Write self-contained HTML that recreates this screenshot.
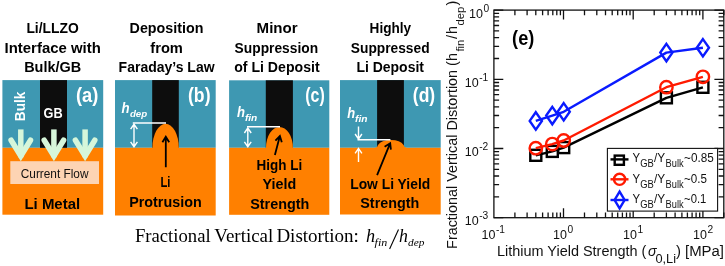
<!DOCTYPE html>
<html><head><meta charset="utf-8"><title>Fractional Vertical Distortion</title>
<style>html,body{margin:0;padding:0;background:#fff}svg{display:block;filter:blur(0.45px)}text{white-space:pre}</style></head>
<body>
<svg width="725" height="266" viewBox="0 0 725 266">
<rect width="725" height="266" fill="#fff"/>
<rect x="2.4" y="80.1" width="100.8" height="67.7" fill="#3e98b2"/>
<rect x="2.4" y="147.8" width="100.8" height="66.9" fill="#ff8000"/>
<rect x="40" y="80.1" width="27.0" height="67.7" fill="#0d0d0d"/>
<rect x="115" y="80.1" width="100.7" height="67.7" fill="#3e98b2"/>
<rect x="115" y="147.8" width="100.7" height="67.7" fill="#ff8000"/>
<rect x="152.2" y="80.1" width="26.6" height="67.7" fill="#0d0d0d"/>
<rect x="229.1" y="80.3" width="100.2" height="67.5" fill="#3e98b2"/>
<rect x="229.1" y="147.8" width="100.2" height="67.0" fill="#ff8000"/>
<rect x="265.8" y="80.3" width="27.1" height="67.5" fill="#0d0d0d"/>
<rect x="340" y="80.1" width="100.7" height="67.7" fill="#3e98b2"/>
<rect x="340" y="147.8" width="100.7" height="66.7" fill="#ff8000"/>
<rect x="377.1" y="80.1" width="26.8" height="67.7" fill="#0d0d0d"/>
<text x="26.4" y="32.9" font-family='"Liberation Sans", sans-serif' font-size="14.7" font-weight="bold" fill="#000" textLength="52.3" lengthAdjust="spacingAndGlyphs">Li/LLZO</text>
<text x="4.6" y="52.5" font-family='"Liberation Sans", sans-serif' font-size="14.7" font-weight="bold" fill="#000" textLength="96.2" lengthAdjust="spacingAndGlyphs">Interface with</text>
<text x="24.2" y="72.1" font-family='"Liberation Sans", sans-serif' font-size="14.7" font-weight="bold" fill="#000" textLength="57.0" lengthAdjust="spacingAndGlyphs">Bulk/GB</text>
<text x="129.6" y="32.9" font-family='"Liberation Sans", sans-serif' font-size="14.7" font-weight="bold" fill="#000" textLength="73.8" lengthAdjust="spacingAndGlyphs">Deposition</text>
<text x="150.3" y="52.5" font-family='"Liberation Sans", sans-serif' font-size="14.7" font-weight="bold" fill="#000" textLength="32.6" lengthAdjust="spacingAndGlyphs">from</text>
<text x="118.6" y="72.1" font-family='"Liberation Sans", sans-serif' font-size="14.7" font-weight="bold" fill="#000" textLength="96.0" lengthAdjust="spacingAndGlyphs">Faraday’s Law</text>
<text x="256.6" y="32.9" font-family='"Liberation Sans", sans-serif' font-size="14.7" font-weight="bold" fill="#000" textLength="41.0" lengthAdjust="spacingAndGlyphs">Minor</text>
<text x="234.6" y="52.5" font-family='"Liberation Sans", sans-serif' font-size="14.7" font-weight="bold" fill="#000" textLength="83.5" lengthAdjust="spacingAndGlyphs">Suppression</text>
<text x="234.2" y="72.1" font-family='"Liberation Sans", sans-serif' font-size="14.7" font-weight="bold" fill="#000" textLength="85.4" lengthAdjust="spacingAndGlyphs">of Li Deposit</text>
<text x="369.6" y="32.9" font-family='"Liberation Sans", sans-serif' font-size="14.7" font-weight="bold" fill="#000" textLength="41.5" lengthAdjust="spacingAndGlyphs">Highly</text>
<text x="350.8" y="52.5" font-family='"Liberation Sans", sans-serif' font-size="14.7" font-weight="bold" fill="#000" textLength="78.8" lengthAdjust="spacingAndGlyphs">Suppressed</text>
<text x="356.4" y="72.1" font-family='"Liberation Sans", sans-serif' font-size="14.7" font-weight="bold" fill="#000" textLength="67.6" lengthAdjust="spacingAndGlyphs">Li Deposit</text>
<rect x="10.3" y="161.2" width="88.7" height="22.8" fill="#fdd4b3"/>
<g stroke="#d6f6da" fill="none" stroke-width="5.5"><path d="M20.8 129.4V157.3"/><path stroke-linecap="round" stroke-linejoin="miter" stroke-miterlimit="10" d="M11.1 140.2L20.8 156L30.5 140.2"/></g>
<g stroke="#d6f6da" fill="none" stroke-width="5.5"><path d="M53.9 129.4V157.3"/><path stroke-linecap="round" stroke-linejoin="miter" stroke-miterlimit="10" d="M44.2 140.2L53.9 156L63.6 140.2"/></g>
<g stroke="#d6f6da" fill="none" stroke-width="5.5"><path d="M85.1 129.4V157.3"/><path stroke-linecap="round" stroke-linejoin="miter" stroke-miterlimit="10" d="M75.4 140.2L85.1 156L94.8 140.2"/></g>
<text x="20.8" y="178.2" font-family='"Liberation Sans", sans-serif' font-size="13" font-weight="normal" fill="#111" textLength="67.7" lengthAdjust="spacingAndGlyphs">Current Flow</text>
<text x="24.4" y="209.3" font-family='"Liberation Sans", sans-serif' font-size="14.6" font-weight="bold" fill="#000" textLength="55.8" lengthAdjust="spacingAndGlyphs">Li Metal</text>
<text x="43.6" y="117.5" font-family='"Liberation Sans", sans-serif' font-size="13.8" font-weight="bold" fill="#fff" textLength="19.1" lengthAdjust="spacingAndGlyphs">GB</text>
<text x="76.0" y="102.0" font-family='"Liberation Sans", sans-serif' font-size="19.5" font-weight="bold" fill="#fff" textLength="22.4" lengthAdjust="spacingAndGlyphs">(a)</text>
<g transform="translate(25.4,121.2) rotate(-90)">
<text x="0.0" y="0.0" font-family='"Liberation Sans", sans-serif' font-size="14.5" font-weight="bold" fill="#fff" textLength="29.5" lengthAdjust="spacingAndGlyphs">Bulk</text>
</g>
<path d="M152.4 148.3 L152.4 147.8 A13.2 24 0 0 1 178.8 147.8 L178.8 148.3Z" fill="#ff8000"/>
<g stroke="#fff" stroke-width="1.4" fill="none"><path d="M132.8 123H166"/><path d="M134 124.5V146.5M130.6 129.2L134 124.3L137.4 129.2M130.6 141.8L134 146.7L137.4 141.8"/></g>
<g stroke="#000" stroke-width="1.8" fill="none"><path d="M165.8 167.2V137M162.4 142.2L165.8 136.7L169.2 142.2"/></g>
<text x="121.6" y="113.4" font-family='"Liberation Sans", sans-serif' font-size="15" font-weight="bold" fill="#fff" font-style="italic" textLength="8.1" lengthAdjust="spacingAndGlyphs">h</text>
<text x="129.9" y="116.9" font-family='"Liberation Sans", sans-serif' font-size="9.8" font-weight="bold" fill="#fff" font-style="italic" textLength="17.3" lengthAdjust="spacingAndGlyphs">dep</text>
<text x="188.0" y="102.0" font-family='"Liberation Sans", sans-serif' font-size="19.5" font-weight="bold" fill="#fff" textLength="22.5" lengthAdjust="spacingAndGlyphs">(b)</text>
<text x="160.5" y="187.3" font-family='"Liberation Sans", sans-serif' font-size="14.6" font-weight="bold" fill="#000" textLength="10.0" lengthAdjust="spacingAndGlyphs">Li</text>
<text x="129.2" y="207.0" font-family='"Liberation Sans", sans-serif' font-size="14.6" font-weight="bold" fill="#000" textLength="72.5" lengthAdjust="spacingAndGlyphs">Protrusion</text>
<path d="M266 148.3 L266 147.8 A13.4 20.7 0 0 1 292.9 147.8 L292.9 148.3Z" fill="#ff8000"/>
<g stroke="#fff" stroke-width="1.4" fill="none"><path d="M247 126.8H280"/><path d="M247.8 128.3V146.5M244.4 133L247.8 128.1L251.2 133M244.4 141.8L247.8 146.7L251.2 141.8"/></g>
<g stroke="#000" stroke-width="1.8" fill="none"><path d="M274.9 154.9L279.8 136.3M275.4 140.6L279.9 136L281.8 142.3"/></g>
<text x="237.0" y="116.8" font-family='"Liberation Sans", sans-serif' font-size="15" font-weight="bold" fill="#fff" font-style="italic" textLength="8.0" lengthAdjust="spacingAndGlyphs">h</text>
<text x="244.9" y="121.1" font-family='"Liberation Sans", sans-serif' font-size="9.8" font-weight="bold" fill="#fff" font-style="italic" textLength="12.4" lengthAdjust="spacingAndGlyphs">fin</text>
<text x="305.3" y="102.0" font-family='"Liberation Sans", sans-serif' font-size="19.5" font-weight="bold" fill="#fff" textLength="19.5" lengthAdjust="spacingAndGlyphs">(c)</text>
<text x="256.6" y="169.5" font-family='"Liberation Sans", sans-serif' font-size="14.6" font-weight="bold" fill="#000" textLength="45.6" lengthAdjust="spacingAndGlyphs">High Li</text>
<text x="262.6" y="189.0" font-family='"Liberation Sans", sans-serif' font-size="14.6" font-weight="bold" fill="#000" textLength="33.7" lengthAdjust="spacingAndGlyphs">Yield</text>
<text x="250.2" y="209.2" font-family='"Liberation Sans", sans-serif' font-size="14.6" font-weight="bold" fill="#000" textLength="59.2" lengthAdjust="spacingAndGlyphs">Strength</text>
<path d="M375.2 148.3V147.8Q377.4 147.8 378 144.9A13.7 7.5 0 0 1 403.6 144.9Q404.2 147.8 406.4 147.8V148.3Z" fill="#ff8000"/>
<g stroke="#fff" stroke-width="1.4" fill="none"><path d="M357.5 139.7H390.4"/><path d="M358.5 126.5V138.8M355.1 134L358.5 139L361.9 134"/><path d="M358.5 162V148.6M355.1 153.4L358.5 148.4L361.9 153.4"/></g>
<g stroke="#000" stroke-width="1.8" fill="none"><path d="M377.1 175.2L390 143.6M384.6 146.8L390.2 143.2L390.9 149.6"/></g>
<text x="347.3" y="118.1" font-family='"Liberation Sans", sans-serif' font-size="15" font-weight="bold" fill="#fff" font-style="italic" textLength="7.9" lengthAdjust="spacingAndGlyphs">h</text>
<text x="355.1" y="122.4" font-family='"Liberation Sans", sans-serif' font-size="9.8" font-weight="bold" fill="#fff" font-style="italic" textLength="12.5" lengthAdjust="spacingAndGlyphs">fin</text>
<text x="412.8" y="102.0" font-family='"Liberation Sans", sans-serif' font-size="19.5" font-weight="bold" fill="#fff" textLength="22.4" lengthAdjust="spacingAndGlyphs">(d)</text>
<text x="350.2" y="189.0" font-family='"Liberation Sans", sans-serif' font-size="14.2" font-weight="bold" fill="#000" textLength="80.0" lengthAdjust="spacingAndGlyphs">Low Li Yield</text>
<text x="360.3" y="207.7" font-family='"Liberation Sans", sans-serif' font-size="14.2" font-weight="bold" fill="#000" textLength="59.0" lengthAdjust="spacingAndGlyphs">Strength</text>
<text x="134.9" y="242.0" font-family='"Liberation Serif", serif' font-size="18.8" font-weight="normal" fill="#000" textLength="75.8" lengthAdjust="spacingAndGlyphs">Fractional</text>
<text x="214.3" y="242.0" font-family='"Liberation Serif", serif' font-size="18.8" font-weight="normal" fill="#000" textLength="59.0" lengthAdjust="spacingAndGlyphs">Vertical</text>
<text x="276.4" y="242.0" font-family='"Liberation Serif", serif' font-size="18.8" font-weight="normal" fill="#000" textLength="82.4" lengthAdjust="spacingAndGlyphs">Distortion:</text>
<text x="365.9" y="242.0" font-family='"Liberation Serif", serif' font-size="18.8" font-weight="normal" fill="#000" font-style="italic" textLength="9.1" lengthAdjust="spacingAndGlyphs">h</text>
<text x="374.6" y="246.4" font-family='"Liberation Serif", serif' font-size="11" font-weight="normal" fill="#000" font-style="italic" textLength="12.7" lengthAdjust="spacingAndGlyphs">fin</text>
<path d="M389.6 248.9L398.5 229.6" stroke="#000" stroke-width="1.1"/>
<text x="398.9" y="242.0" font-family='"Liberation Serif", serif' font-size="18.8" font-weight="normal" fill="#000" font-style="italic" textLength="8.9" lengthAdjust="spacingAndGlyphs">h</text>
<text x="408.0" y="246.4" font-family='"Liberation Serif", serif' font-size="11" font-weight="normal" fill="#000" font-style="italic" textLength="16.4" lengthAdjust="spacingAndGlyphs">dep</text>
<g stroke="#111" stroke-width="1.3" fill="none">
<rect x="493.9" y="10.1" width="229.9" height="207.6"/>
<path d="M514.9 217.7v-5.2M514.9 10.1v5.2M527.1 217.7v-5.2M527.1 10.1v5.2M535.8 217.7v-5.2M535.8 10.1v5.2M542.6 217.7v-5.2M542.6 10.1v5.2M548.1 217.7v-5.2M548.1 10.1v5.2M552.8 217.7v-5.2M552.8 10.1v5.2M556.8 217.7v-5.2M556.8 10.1v5.2M560.4 217.7v-5.2M560.4 10.1v5.2M563.5 217.7v-9.4M563.5 10.1v9.4M584.5 217.7v-5.2M584.5 10.1v5.2M596.8 217.7v-5.2M596.8 10.1v5.2M605.5 217.7v-5.2M605.5 10.1v5.2M612.2 217.7v-5.2M612.2 10.1v5.2M617.7 217.7v-5.2M617.7 10.1v5.2M622.4 217.7v-5.2M622.4 10.1v5.2M626.5 217.7v-5.2M626.5 10.1v5.2M630.0 217.7v-5.2M630.0 10.1v5.2M633.2 217.7v-9.4M633.2 10.1v9.4M654.2 217.7v-5.2M654.2 10.1v5.2M666.4 217.7v-5.2M666.4 10.1v5.2M675.1 217.7v-5.2M675.1 10.1v5.2M681.9 217.7v-5.2M681.9 10.1v5.2M687.4 217.7v-5.2M687.4 10.1v5.2M692.1 217.7v-5.2M692.1 10.1v5.2M696.1 217.7v-5.2M696.1 10.1v5.2M699.7 217.7v-5.2M699.7 10.1v5.2M702.9 217.7v-9.4M702.9 10.1v9.4M723.8 217.7v-5.2M723.8 10.1v5.2M493.9 217.7h9.4M723.8 217.7h-9.4M493.9 196.9h5.2M723.8 196.9h-5.2M493.9 184.7h5.2M723.8 184.7h-5.2M493.9 176.0h5.2M723.8 176.0h-5.2M493.9 169.3h5.2M723.8 169.3h-5.2M493.9 163.9h5.2M723.8 163.9h-5.2M493.9 159.2h5.2M723.8 159.2h-5.2M493.9 155.2h5.2M723.8 155.2h-5.2M493.9 151.7h5.2M723.8 151.7h-5.2M493.9 148.5h9.4M723.8 148.5h-9.4M493.9 127.7h5.2M723.8 127.7h-5.2M493.9 115.5h5.2M723.8 115.5h-5.2M493.9 106.8h5.2M723.8 106.8h-5.2M493.9 100.1h5.2M723.8 100.1h-5.2M493.9 94.7h5.2M723.8 94.7h-5.2M493.9 90.0h5.2M723.8 90.0h-5.2M493.9 86.0h5.2M723.8 86.0h-5.2M493.9 82.5h5.2M723.8 82.5h-5.2M493.9 79.3h9.4M723.8 79.3h-9.4M493.9 58.5h5.2M723.8 58.5h-5.2M493.9 46.3h5.2M723.8 46.3h-5.2M493.9 37.6h5.2M723.8 37.6h-5.2M493.9 30.9h5.2M723.8 30.9h-5.2M493.9 25.5h5.2M723.8 25.5h-5.2M493.9 20.8h5.2M723.8 20.8h-5.2M493.9 16.8h5.2M723.8 16.8h-5.2M493.9 13.3h5.2M723.8 13.3h-5.2M493.9 10.1h9.4M723.8 10.1h-9.4"/>
</g>
<polyline fill="none" stroke="#000" stroke-width="2.4" stroke-linejoin="round" points="535.8,155.3 552.3,151.4 563.7,147.6 666.4,97.8 702.9,87.3"/>
<rect x="530.3" y="149.8" width="11.0" height="11.0" fill="none" stroke="#000" stroke-width="2.4"/>
<rect x="546.8" y="145.9" width="11.0" height="11.0" fill="none" stroke="#000" stroke-width="2.4"/>
<rect x="558.2" y="142.1" width="11.0" height="11.0" fill="none" stroke="#000" stroke-width="2.4"/>
<rect x="660.9" y="92.3" width="11.0" height="11.0" fill="none" stroke="#000" stroke-width="2.4"/>
<rect x="697.4" y="81.8" width="11.0" height="11.0" fill="none" stroke="#000" stroke-width="2.4"/>
<polyline fill="none" stroke="#ff1a00" stroke-width="2.4" stroke-linejoin="round" points="535.8,148.2 552.3,144.1 563.7,140.5 666.4,87.2 702.9,76.8"/>
<circle cx="535.8" cy="148.2" r="6.2" fill="none" stroke="#ff1a00" stroke-width="2.4"/>
<circle cx="552.3" cy="144.1" r="6.2" fill="none" stroke="#ff1a00" stroke-width="2.4"/>
<circle cx="563.7" cy="140.5" r="6.2" fill="none" stroke="#ff1a00" stroke-width="2.4"/>
<circle cx="666.4" cy="87.2" r="6.2" fill="none" stroke="#ff1a00" stroke-width="2.4"/>
<circle cx="702.9" cy="76.8" r="6.2" fill="none" stroke="#ff1a00" stroke-width="2.4"/>
<polyline fill="none" stroke="#0a1bff" stroke-width="2.4" stroke-linejoin="round" points="535.8,120.9 552.3,115.6 563.7,111.8 666.4,52.6 702.9,47.8"/>
<path d="M535.8 112.2L541.9 120.9L535.8 129.6L529.7 120.9Z" fill="none" stroke="#0a1bff" stroke-width="2.4" stroke-linejoin="miter"/>
<path d="M552.3 106.9L558.4 115.6L552.3 124.3L546.2 115.6Z" fill="none" stroke="#0a1bff" stroke-width="2.4" stroke-linejoin="miter"/>
<path d="M563.7 103.1L569.8 111.8L563.7 120.5L557.6 111.8Z" fill="none" stroke="#0a1bff" stroke-width="2.4" stroke-linejoin="miter"/>
<path d="M666.4 43.9L672.5 52.6L666.4 61.3L660.3 52.6Z" fill="none" stroke="#0a1bff" stroke-width="2.4" stroke-linejoin="miter"/>
<path d="M702.9 39.1L709.0 47.8L702.9 56.5L696.8 47.8Z" fill="none" stroke="#0a1bff" stroke-width="2.4" stroke-linejoin="miter"/>
<rect x="607.4" y="148.4" width="110.2" height="62.7" fill="#fff" stroke="#111" stroke-width="1.1"/>
<path d="M610.5 159.4H628.5" stroke="#000" stroke-width="2.4"/>
<rect x="614.7" y="155.6" width="9.2" height="9.2" fill="none" stroke="#000" stroke-width="2.4"/>
<text x="632.4" y="162.4" font-family='"Liberation Sans", sans-serif' font-size="12.5" font-weight="normal" fill="#111" textLength="7.6" lengthAdjust="spacingAndGlyphs">Y</text>
<text x="640.2" y="167.4" font-family='"Liberation Sans", sans-serif' font-size="10" font-weight="normal" fill="#111" textLength="13.6" lengthAdjust="spacingAndGlyphs">GB</text>
<text x="654.0" y="162.4" font-family='"Liberation Sans", sans-serif' font-size="12.5" font-weight="normal" fill="#111" textLength="11.2" lengthAdjust="spacingAndGlyphs">/Y</text>
<text x="665.6" y="167.4" font-family='"Liberation Sans", sans-serif' font-size="10" font-weight="normal" fill="#111" textLength="18.0" lengthAdjust="spacingAndGlyphs">Bulk</text>
<text x="684.1" y="162.4" font-family='"Liberation Sans", sans-serif' font-size="12.5" font-weight="normal" fill="#111" textLength="29.7" lengthAdjust="spacingAndGlyphs">~0.85</text>
<path d="M610.5 179.3H628.5" stroke="#ff1a00" stroke-width="2.4"/>
<circle cx="619.6" cy="179.3" r="5.6" fill="none" stroke="#ff1a00" stroke-width="2.4"/>
<text x="632.4" y="182.8" font-family='"Liberation Sans", sans-serif' font-size="12.5" font-weight="normal" fill="#111" textLength="7.6" lengthAdjust="spacingAndGlyphs">Y</text>
<text x="640.2" y="187.8" font-family='"Liberation Sans", sans-serif' font-size="10" font-weight="normal" fill="#111" textLength="13.6" lengthAdjust="spacingAndGlyphs">GB</text>
<text x="654.0" y="182.8" font-family='"Liberation Sans", sans-serif' font-size="12.5" font-weight="normal" fill="#111" textLength="11.2" lengthAdjust="spacingAndGlyphs">/Y</text>
<text x="665.6" y="187.8" font-family='"Liberation Sans", sans-serif' font-size="10" font-weight="normal" fill="#111" textLength="18.0" lengthAdjust="spacingAndGlyphs">Bulk</text>
<text x="684.1" y="182.8" font-family='"Liberation Sans", sans-serif' font-size="12.5" font-weight="normal" fill="#111" textLength="22.9" lengthAdjust="spacingAndGlyphs">~0.5</text>
<path d="M610.5 200H628.5" stroke="#0a1bff" stroke-width="2.4"/>
<path d="M619.6 191.7L624.6 200.0L619.6 208.3L614.6 200.0Z" fill="none" stroke="#0a1bff" stroke-width="2.4" stroke-linejoin="miter"/>
<text x="632.4" y="202.6" font-family='"Liberation Sans", sans-serif' font-size="12.5" font-weight="normal" fill="#111" textLength="7.6" lengthAdjust="spacingAndGlyphs">Y</text>
<text x="640.2" y="207.6" font-family='"Liberation Sans", sans-serif' font-size="10" font-weight="normal" fill="#111" textLength="13.6" lengthAdjust="spacingAndGlyphs">GB</text>
<text x="654.0" y="202.6" font-family='"Liberation Sans", sans-serif' font-size="12.5" font-weight="normal" fill="#111" textLength="11.2" lengthAdjust="spacingAndGlyphs">/Y</text>
<text x="665.6" y="207.6" font-family='"Liberation Sans", sans-serif' font-size="10" font-weight="normal" fill="#111" textLength="18.0" lengthAdjust="spacingAndGlyphs">Bulk</text>
<text x="684.1" y="202.6" font-family='"Liberation Sans", sans-serif' font-size="12.5" font-weight="normal" fill="#111" textLength="22.3" lengthAdjust="spacingAndGlyphs">~0.1</text>
<text x="469.1" y="17.7" font-family='"Liberation Sans", sans-serif' font-size="12.5" font-weight="normal" fill="#111">10</text>
<text x="483.5" y="11.5" font-family='"Liberation Sans", sans-serif' font-size="10.2" font-weight="normal" fill="#111">0</text>
<text x="464.8" y="86.9" font-family='"Liberation Sans", sans-serif' font-size="12.5" font-weight="normal" fill="#111">10</text>
<text x="479.2" y="80.7" font-family='"Liberation Sans", sans-serif' font-size="10.2" font-weight="normal" fill="#111">-1</text>
<text x="464.8" y="155.7" font-family='"Liberation Sans", sans-serif' font-size="12.5" font-weight="normal" fill="#111">10</text>
<text x="479.2" y="149.5" font-family='"Liberation Sans", sans-serif' font-size="10.2" font-weight="normal" fill="#111">-2</text>
<text x="464.8" y="224.8" font-family='"Liberation Sans", sans-serif' font-size="12.5" font-weight="normal" fill="#111">10</text>
<text x="479.2" y="218.6" font-family='"Liberation Sans", sans-serif' font-size="10.2" font-weight="normal" fill="#111">-3</text>
<text x="481.5" y="239.0" font-family='"Liberation Sans", sans-serif' font-size="12.5" font-weight="normal" fill="#111">10</text>
<text x="495.9" y="232.8" font-family='"Liberation Sans", sans-serif' font-size="10.2" font-weight="normal" fill="#111">-1</text>
<text x="553.1" y="239.0" font-family='"Liberation Sans", sans-serif' font-size="12.5" font-weight="normal" fill="#111">10</text>
<text x="567.5" y="232.8" font-family='"Liberation Sans", sans-serif' font-size="10.2" font-weight="normal" fill="#111">0</text>
<text x="623.1" y="239.0" font-family='"Liberation Sans", sans-serif' font-size="12.5" font-weight="normal" fill="#111">10</text>
<text x="637.5" y="232.8" font-family='"Liberation Sans", sans-serif' font-size="10.2" font-weight="normal" fill="#111">1</text>
<text x="693.0" y="239.0" font-family='"Liberation Sans", sans-serif' font-size="12.5" font-weight="normal" fill="#111">10</text>
<text x="707.4" y="232.8" font-family='"Liberation Sans", sans-serif' font-size="10.2" font-weight="normal" fill="#111">2</text>
<text x="497.0" y="256.2" font-family='"Liberation Sans", sans-serif' font-size="14" font-weight="normal" fill="#111" textLength="149.4" lengthAdjust="spacingAndGlyphs">Lithium Yield Strength (</text>
<text x="647.9" y="256.2" font-family='"Liberation Sans", sans-serif' font-size="14" font-weight="normal" fill="#111" font-style="italic" textLength="8.6" lengthAdjust="spacingAndGlyphs">σ</text>
<text x="655.4" y="263.0" font-family='"Liberation Sans", sans-serif' font-size="12" font-weight="normal" fill="#111" textLength="20.6" lengthAdjust="spacingAndGlyphs">0,Li</text>
<text x="675.9" y="256.2" font-family='"Liberation Sans", sans-serif' font-size="14" font-weight="normal" fill="#111" textLength="48.1" lengthAdjust="spacingAndGlyphs">) [MPa]</text>
<g transform="translate(456.9,248.9) rotate(-90)">
<text x="0.0" y="0.0" font-family='"Liberation Sans", sans-serif' font-size="14.4" font-weight="normal" fill="#111" textLength="195.8" lengthAdjust="spacingAndGlyphs">Fractional Vertical Distortion (h</text>
<text x="197.3" y="6.8" font-family='"Liberation Sans", sans-serif' font-size="11.3" font-weight="normal" fill="#111">fin</text>
<text x="210.0" y="0.0" font-family='"Liberation Sans", sans-serif' font-size="14.4" font-weight="normal" fill="#111">/</text>
<text x="214.9" y="0.0" font-family='"Liberation Sans", sans-serif' font-size="14.4" font-weight="normal" fill="#111">h</text>
<text x="223.4" y="6.8" font-family='"Liberation Sans", sans-serif' font-size="11.3" font-weight="normal" fill="#111">dep</text>
<text x="243.3" y="0.0" font-family='"Liberation Sans", sans-serif' font-size="14.4" font-weight="normal" fill="#111">)</text>
</g>
<text x="512.1" y="45.3" font-family='"Liberation Sans", sans-serif' font-size="19.5" font-weight="bold" fill="#000" textLength="22.2" lengthAdjust="spacingAndGlyphs">(e)</text>
</svg>
</body></html>
